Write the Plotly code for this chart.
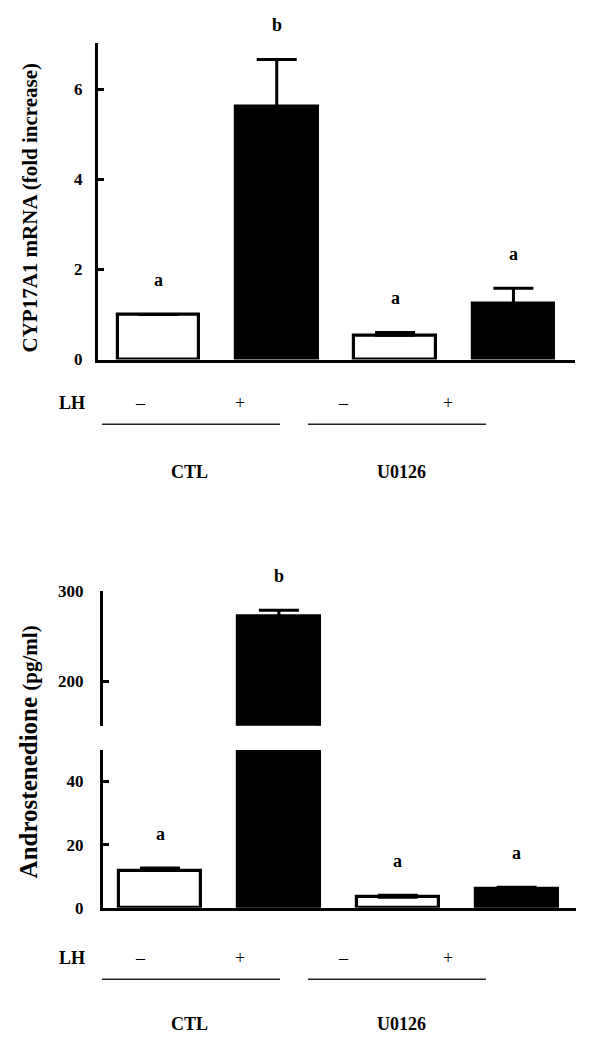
import plotly.graph_objects as go

# ---- data ----
groups = ["CTL", "CTL", "U0126", "U0126"]
lh = ["–", "+", "–", "+"]
bar_colors = ["white", "black", "white", "black"]
mrna = [1.0, 5.6, 0.54, 1.24]
mrna_err = [0.0, 1.06, 0.06, 0.34]
mrna_letters = ["a", "b", "a", "a"]
andro = [11.8, 272.0, 3.35, 6.1]
andro_err = [0.8, 7.0, 0.65, 0.4]
andro_letters = ["a", "b", "a", "a"]
mrna_ticks = [0, 2, 4, 6]
andro_low_ticks = [0, 20, 40, 50]
andro_low_text = ["0", "20", "40", ""]
andro_high_ticks = [150, 200, 300]
andro_high_text = ["", "200", "300"]

# page is 600x1052 with the default 8px body margin -> figure 584x1036
OFF = 8
W, H = 600 - 2 * OFF, 1052 - 2 * OFF
FONT = "Liberation Serif, Times New Roman, serif"
xs = [0, 1, 2, 3]
# empirical vertical calibration of the page capture
VY_A, VY_K = 9.5, 0.980


def px(x):
    return (x - OFF) / W


def py(y):
    t = (y - VY_A) / VY_K
    return 1 - (t - OFF) / H


fig = go.Figure()


def add_bars(xa, ya, vals, errs):
    fig.add_trace(go.Bar(
        x=xs, y=vals, width=0.69, xaxis=xa, yaxis=ya,
        marker=dict(color=bar_colors, line=dict(color="black", width=3.2)),
        error_y=dict(type="data", array=errs, arrayminus=[0] * len(errs),
                     symmetric=False, color="black", thickness=3, width=20),
        showlegend=False, hoverinfo="skip"))


add_bars("x", "y", mrna, mrna_err)
add_bars("x2", "y2", andro, andro_err)
add_bars("x3", "y3", andro, andro_err)

axis_common = dict(showline=True, linecolor="black", linewidth=3,
                   showgrid=False, zeroline=False)


def ytick(standoff):
    return dict(ticks="inside", ticklen=6, tickwidth=3, tickcolor="black",
                tickfont=dict(family=FONT, size=17, color="black", weight="bold"),
                ticklabelstandoff=standoff)


fig.update_layout(
    width=W, height=H, autosize=False,
    margin=dict(l=0, r=0, t=0, b=0),
    paper_bgcolor="white", plot_bgcolor="rgba(0,0,0,0)",
    font=dict(family=FONT, color="black"),
    bargap=0,
    xaxis=dict(domain=[px(98), px(575)], range=[-0.51, 3.52],
               showticklabels=False, ticks="", anchor="y", **axis_common),
    yaxis=dict(domain=[py(359.3), py(43)], range=[0, 7.03], anchor="x",
               tickvals=mrna_ticks, **ytick(9), **axis_common),
    xaxis2=dict(domain=[px(103), px(576)], range=[-0.48, 3.5],
                showticklabels=False, ticks="", anchor="y2", **axis_common),
    yaxis2=dict(domain=[py(906.6), py(749)], range=[0, 50], anchor="x2",
                tickvals=andro_low_ticks, ticktext=andro_low_text,
                **ytick(13), **axis_common),
    xaxis3=dict(domain=[px(103), px(576)], range=[-0.48, 3.5],
                showticklabels=False, ticks="", showline=False,
                showgrid=False, zeroline=False, anchor="y3"),
    yaxis3=dict(domain=[py(725), py(590.7)], range=[150, 300], anchor="x3",
                tickvals=andro_high_ticks, ticktext=andro_high_text,
                **ytick(13), **axis_common),
)

letter_font = dict(family=FONT, size=18, color="black", weight="bold")
ann = []
# significance letters
for i in range(4):
    ann.append(dict(x=xs[i], y=mrna[i] + mrna_err[i], xref="x", yref="y",
                    text=mrna_letters[i], showarrow=False, yshift=34,
                    xanchor="center", yanchor="middle", font=letter_font))
for i in range(4):
    top = andro[i] + andro_err[i]
    xr, yr = ("x3", "y3") if top > 50 else ("x2", "y2")
    ann.append(dict(x=xs[i], y=top, xref=xr, yref=yr,
                    text=andro_letters[i], showarrow=False, yshift=34,
                    xanchor="center", yanchor="middle", font=letter_font))


def pann(x, y, text, size, bold=True, angle=0):
    ann.append(dict(x=px(x), y=py(y), xref="paper", yref="paper",
                    text=text, textangle=angle, showarrow=False,
                    xanchor="center", yanchor="middle",
                    font=dict(family=FONT, size=size, color="black",
                              weight="bold" if bold else "normal")))


# y titles
pann(30, 207.5, "CYP17A1 mRNA (fold increase)", 21, angle=-90)
pann(28, 751.5, "Androstenedione <span style='font-size:21px'>(pg/ml)</span>", 25, angle=-90)

shapes = []
lh_x = [140, 240, 343, 448]
for (row_y, line_y, lab_y) in [(403, 424, 472), (957, 978, 1023)]:
    pann(72, row_y, "LH", 18)
    for xx, t in zip(lh_x, lh):
        pann(xx, row_y, t, 18, bold=False)
    for (x0, x1), g, cx in [((102, 280), groups[0], 189), ((308, 486), groups[2], 401)]:
        shapes.append(dict(type="line", xref="paper", yref="paper",
                           x0=px(x0), x1=px(x1), y0=py(line_y), y1=py(line_y),
                           line=dict(color="#222", width=1.5)))
        pann(cx, lab_y, g, 18)

fig.update_layout(annotations=ann, shapes=shapes)
fig.write_html("out.html")
